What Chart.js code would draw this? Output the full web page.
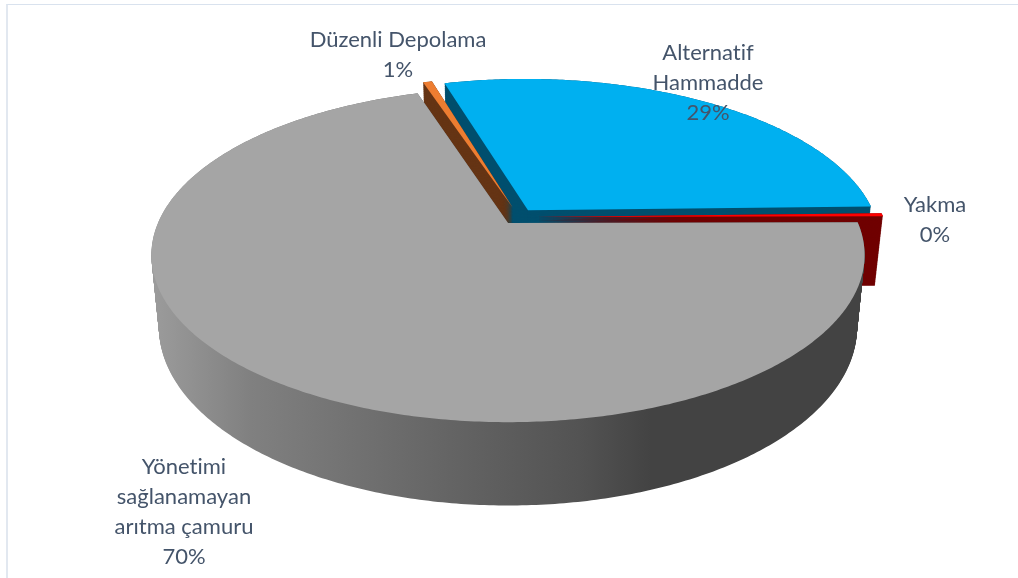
<!DOCTYPE html>
<html>
<head>
<meta charset="utf-8">
<title>Arıtma çamuru</title>
<script src="https://cdn.jsdelivr.net/npm/chart.js@4/dist/chart.umd.js"></script>
<style>
    html, body { margin: 0; padding: 0; background: #fff; overflow: hidden; }
    #frame { position: absolute; left: 6px; top: 4px; right: 0; bottom: 0; border-left: 2px solid #e2e8f0; border-top: 1px solid #d9e2ee; }
    canvas { position: absolute; left: 0; top: 0; }
</style>
</head>
<body>
<div id="frame"></div>
<canvas id="chart" width="1018" height="578"></canvas>
<script>
const categories = ['Alternatif Hammadde', 'Yakma', 'Yönetimi sağlanamayan arıtma çamuru', 'Düzenli Depolama'];
const shares = [29, 0.3, 70, 0.5];

const labelLines = [['Alternatif', 'Hammadde'], ['Yakma'], ['Yönetimi', 'sağlanamayan', 'arıtma çamuru'], ['Düzenli Depolama']];
const labelCenters = [[708, 53], [935, 205], [184, 467], [398, 40]];

const topColors = ['#00B0F0', '#FF0000', '#A5A5A5', '#ED7D31'];
const wallColors = ['#004F6E', '#700000', null, '#653414'];
// exploded slices, in units of the pie radius
const explode = [[0.058, -0.08], [0.08, -0.037], [0, 0], [0.014, -0.097]];
const drawOrder = [0, 3, 1, 2];

// the pie is seen in perspective: top and bottom disc have their own projection
const view = { cx: 508, k: 0.1916, top: { rx: 350, ry: 161, cy: 223 }, bottom: { rx: 342.6, ry: 171.8, cy: 293 } };
const wallStops = [[0, '#9c9c9c'], [0.14, '#808080'], [0.42, '#646464'], [0.6, '#535353'], [0.7, '#434343'], [1, '#434343']];

function project(x, y, z) {
    const w = 1 - view.k * y;
    const rx = view.top.rx + (view.bottom.rx - view.top.rx) * z;
    const ry = view.top.ry + (view.bottom.ry - view.top.ry) * z;
    const cy = view.top.cy + (view.bottom.cy - view.top.cy) * z;
    return [view.cx + rx * x / w, cy + ry * y / w];
}

function slicePath(ctx, arc, i, z) {
    const off = explode[i];
    const steps = Math.max(2, Math.ceil((arc.endAngle - arc.startAngle) * 90));
    ctx.beginPath();
    const apex = project(off[0], off[1], z);
    ctx.moveTo(apex[0], apex[1]);
    for (let s = 0; s <= steps; s++) {
        const a = arc.startAngle + (arc.endAngle - arc.startAngle) * s / steps;
        const p = project(off[0] + Math.cos(a), off[1] + Math.sin(a), z);
        ctx.lineTo(p[0], p[1]);
    }
    ctx.closePath();
}

const pie3d = {
    id: 'pie3d',
    beforeDatasetsDraw(chart) {
        const ctx = chart.ctx;
        const arcs = chart.getDatasetMeta(0).data;
        const wallGradient = ctx.createLinearGradient(151, 0, 865, 0);
        wallStops.forEach(s => wallGradient.addColorStop(s[0], s[1]));

        drawOrder.forEach(i => {
            ctx.fillStyle = wallColors[i] || wallGradient;
            for (let z = 1; z > 0; z -= 1 / 90) {
                slicePath(ctx, arcs[i], i, z);
                ctx.fill();
            }
            slicePath(ctx, arcs[i], i, 0);
            ctx.fillStyle = arcs[i].options.backgroundColor;
            ctx.fill();
        });
        return false;
    },
    afterDraw(chart) {
        const ctx = chart.ctx;
        const total = shares.reduce((a, b) => a + b, 0);
        ctx.save();
        ctx.font = '22px Lato';
        ctx.textRendering = 'optimizeSpeed'; // no "ti" ligature
        ctx.fillStyle = '#44546A';
        ctx.textAlign = 'center';
        ctx.textBaseline = 'middle';
        categories.forEach((name, i) => {
            const lines = labelLines[i].concat(Math.round(shares[i] / total * 100) + '%');
            lines.forEach((line, n) => {
                ctx.fillText(line, labelCenters[i][0], labelCenters[i][1] + n * 30);
            });
        });
        ctx.restore();
    }
};

new Chart(document.getElementById('chart'), {
    type: 'pie',
    data: {
        labels: categories,
        datasets: [{ data: shares, backgroundColor: topColors, borderWidth: 0 }]
    },
    options: {
        responsive: false,
        animation: false,
        rotation: -16,
        plugins: { legend: { display: false }, tooltip: { enabled: false } }
    },
    plugins: [pie3d]
});
</script>
</body>
</html>
